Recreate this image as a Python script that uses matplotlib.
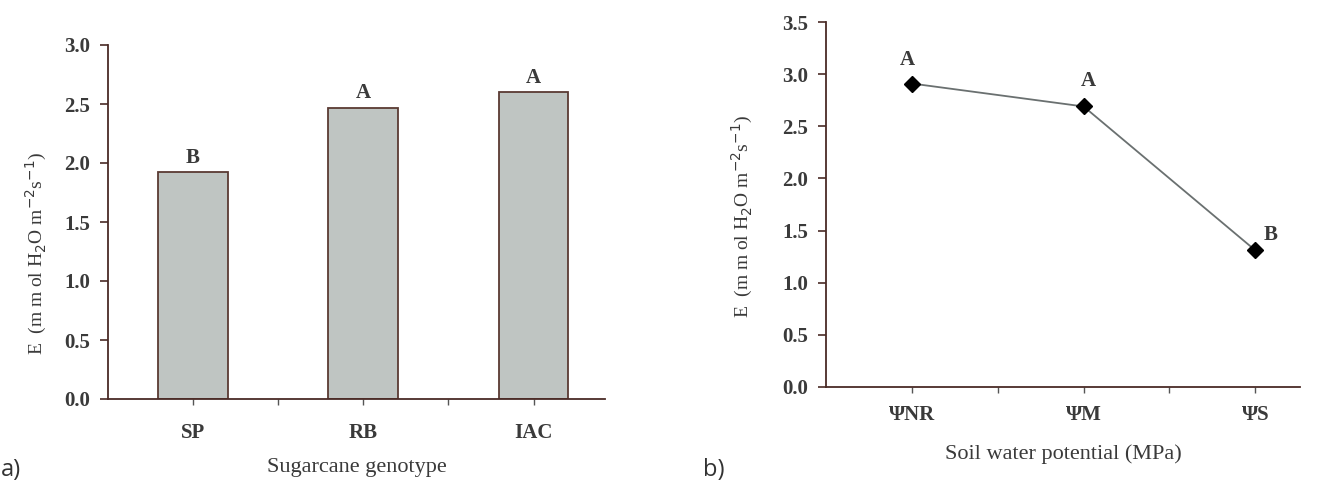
import matplotlib
matplotlib.use('Agg')
import matplotlib.pyplot as plt
from matplotlib.ticker import MultipleLocator, FixedLocator

# Panel a data: transpiration by genotype
genotypes = ['SP', 'RB', 'IAC']
e_genotype = [1.92, 2.47, 2.60]
letters_genotype = ['B', 'A', 'A']

# Panel b data: transpiration by soil water potential
potentials = ['\u03a8NR', '\u03a8M', '\u03a8S']
e_potential = [2.91, 2.69, 1.31]
letters_potential = ['A', 'A', 'B']

SERIF = 'Liberation Serif'
SPINE = '#4a2b26'
BAR_FILL = '#bfc5c2'
BAR_EDGE = '#5a3a33'
TEXT = '#3a3a3a'

ylabel = r'E  (m m ol H$_2$O m$^{-2}$s$^{-1}$)'

fig = plt.figure(figsize=(13.19, 4.8), dpi=100)


def style_axes(ax, xpad):
    for side in ['top', 'right']:
        ax.spines[side].set_visible(False)
    for side in ['left', 'bottom']:
        ax.spines[side].set_color(SPINE)
        ax.spines[side].set_linewidth(1.3)
    ax.tick_params(axis='y', direction='out', length=6, width=1.2, color=SPINE,
                   labelsize=15, labelcolor=TEXT, pad=7)
    ax.tick_params(axis='x', which='both', direction='out', length=4, width=1.0,
                   color='#555555', labelsize=15, labelcolor=TEXT, pad=xpad)
    for lab in ax.get_yticklabels() + ax.get_xticklabels():
        lab.set_fontfamily(SERIF)
        lab.set_fontweight('bold')


# ---- panel a ----
ax1 = fig.add_axes([108 / 1319, 1 - 399 / 480, (605 - 108) / 1319, (399 - 45) / 480])
x1 = list(range(len(genotypes)))
ax1.bar(x1, e_genotype, width=0.41, color=BAR_FILL, edgecolor=BAR_EDGE, linewidth=1.3)
ax1.set_xlim(-0.5, 2.42)
ax1.set_ylim(0, 3.0)
ax1.yaxis.set_major_locator(MultipleLocator(0.5))
ax1.yaxis.set_major_formatter(plt.FormatStrFormatter('%.1f'))
ax1.set_xticks(x1)
ax1.set_xticklabels(genotypes)
ax1.xaxis.set_minor_locator(FixedLocator([0.5, 1.5]))
style_axes(ax1, 13)
for xi, yi, lt in zip(x1, e_genotype, letters_genotype):
    ax1.annotate(lt, (xi, yi), xytext=(0, 3), textcoords='offset points',
                 ha='center', va='bottom', fontsize=15, fontweight='bold',
                 family=SERIF, color=TEXT)
ax1.set_xlabel('Sugarcane genotype', fontsize=16, family=SERIF, color=TEXT, labelpad=11)
ax1.set_ylabel(ylabel, fontsize=14, family=SERIF, color=TEXT)
ax1.yaxis.set_label_coords(-0.118, 0.412)

# ---- panel b ----
ax2 = fig.add_axes([826 / 1319, 1 - 387 / 480, (1300 - 826) / 1319, (387 - 22) / 480])
x2 = list(range(len(potentials)))
ax2.plot(x2, e_potential, color='#6a7070', linewidth=1.3, marker='D',
         markersize=8, markerfacecolor='black', markeredgecolor='black')
ax2.set_xlim(-0.5, 2.26)
ax2.set_ylim(0, 3.5)
ax2.yaxis.set_major_locator(MultipleLocator(0.5))
ax2.yaxis.set_major_formatter(plt.FormatStrFormatter('%.1f'))
ax2.set_xticks(x2)
ax2.set_xticklabels(potentials)
ax2.xaxis.set_minor_locator(FixedLocator([0.5, 1.5]))
style_axes(ax2, 9)
offsets = [(-3.5, 10), (3.5, 11), (11, 4)]
for xi, yi, lt, off in zip(x2, e_potential, letters_potential, offsets):
    ax2.annotate(lt, (xi, yi), xytext=off, textcoords='offset points',
                 ha='center', va='bottom', fontsize=15, fontweight='bold',
                 family=SERIF, color=TEXT)
ax2.set_xlabel('Soil water potential (MPa)', fontsize=16, family=SERIF, color=TEXT, labelpad=14)
ax2.set_ylabel(ylabel, fontsize=14, family=SERIF, color=TEXT)
ax2.yaxis.set_label_coords(-0.150, 0.466)

# panel tags
fig.text(1 / 1319, 1 - 482 / 480, 'a)', fontsize=17, family='Open Sans', color='#333333',
         ha='left', va='bottom')
fig.text(703 / 1319, 1 - 482 / 480, 'b)', fontsize=17, family='Open Sans', color='#333333',
         ha='left', va='bottom')

fig.savefig('out.png', dpi=100)
